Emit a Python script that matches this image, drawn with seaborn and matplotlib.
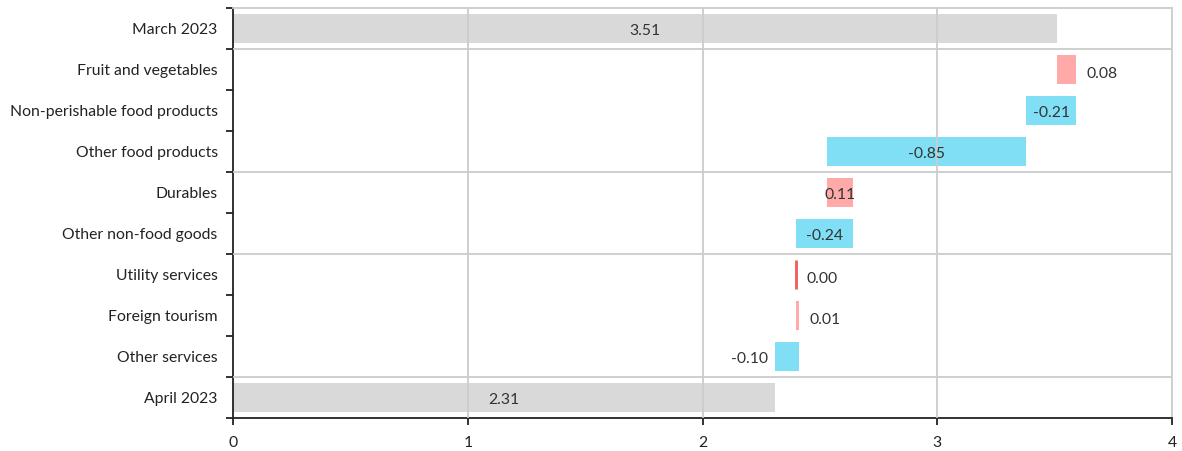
import matplotlib
matplotlib.use("Agg")
import matplotlib.pyplot as plt
import seaborn as sns
import pandas as pd
import numpy as np

categories = ["March 2023", "Fruit and vegetables", "Non-perishable food products",
              "Other food products", "Durables", "Other non-food goods",
              "Utility services", "Foreign tourism", "Other services", "April 2023"]
values = [3.51, 0.08, -0.21, -0.85, 0.11, -0.24, 0.00, 0.01, -0.10, 2.31]
is_total = [True, False, False, False, False, False, False, False, False, True]
x_ticks = [0, 1, 2, 3, 4]

# waterfall starting points derived from the values
starts = []
running = 0.0
for v, tot in zip(values, is_total):
    if tot:
        starts.append(0.0)
        running = v
    else:
        starts.append(running)
        running += v

sns.set_theme(style="white")
plt.rcParams['font.family'] = ['Lato', 'DejaVu Sans']

FS = 11.3
C_TOTAL = "#d9d9d9"
C_POS = "#ffaaa9"
C_NEG = "#80dff5"
C_ZERO = "#f05a5a"
GRID = "#cccccc"

fig = plt.figure(figsize=(11.82, 4.51), dpi=100)
ax = fig.add_axes([233 / 1182, 33 / 451, (1172 - 233) / 1182, (443 - 33) / 451])

df = pd.DataFrame({"cat": categories, "val": values, "start": starts})
for i, row in df.iterrows():
    v = row["val"]
    if is_total[i]:
        col = C_TOTAL
    elif v > 0:
        col = C_POS
    elif v < 0:
        col = C_NEG
    else:
        col = C_ZERO
    sns.barplot(data=df.iloc[[i]], x="val", y="cat", order=categories, orient="y",
                color=col, saturation=1, width=0.7, errorbar=None,
                left=[row["start"]], ax=ax, zorder=2,
                linewidth=(2 if v == 0 else 0), edgecolor=col)

# value labels
for i, (v, s, tot) in enumerate(zip(values, starts, is_total)):
    txt = f"{v:.2f}"
    lo, hi = min(s, s + v), max(s, s + v)
    if tot or abs(v) > 0.105:
        ax.text((lo + hi) / 2, i + 0.07, txt, ha="center", va="center",
                fontsize=FS, color="#333333", zorder=4)
    elif v >= 0:
        ax.text(hi + 0.045, i + 0.1, txt, ha="left", va="center",
                fontsize=FS, color="#333333", zorder=4)
    else:
        ax.text(lo - 0.03, i + 0.05, txt, ha="right", va="center",
                fontsize=FS, color="#333333", zorder=4)

ax.set_xlim(0, 4)
ax.set_ylim(len(categories) - 0.5, -0.5)
ax.set_xticks(x_ticks)
ax.set_xticklabels([str(t) for t in x_ticks])
ax.set_xlabel("")
ax.set_ylabel("")

# gridlines
for t in x_ticks[1:-1]:
    ax.axvline(t, color=GRID, lw=1.3, zorder=3)
for b in [0.5, 3.5, 5.5, 8.5]:
    ax.axhline(b, color=GRID, lw=1.3, zorder=3)

# spines
ax.spines["left"].set_color("#222222")
ax.spines["bottom"].set_color("#222222")
ax.spines["left"].set_linewidth(1.3)
ax.spines["bottom"].set_linewidth(1.3)
ax.spines["top"].set_color(GRID)
ax.spines["right"].set_color(GRID)
ax.spines["top"].set_linewidth(1.3)
ax.spines["right"].set_linewidth(1.3)

# ticks
ax.tick_params(axis="y", which="major", length=0, pad=11, labelsize=FS, labelcolor="#222222")
ax.set_yticks(np.arange(-0.5, len(categories), 1.0), minor=True)
ax.tick_params(axis="y", which="minor", length=5, width=1.3, color="#222222", direction="out")
ax.tick_params(axis="x", which="major", length=5, width=1.3, color="#222222",
               direction="out", labelsize=FS, labelcolor="#222222", pad=8)
ax.yaxis.set_ticks_position("left")
ax.xaxis.set_ticks_position("bottom")

fig.savefig("out.png", dpi=100)
